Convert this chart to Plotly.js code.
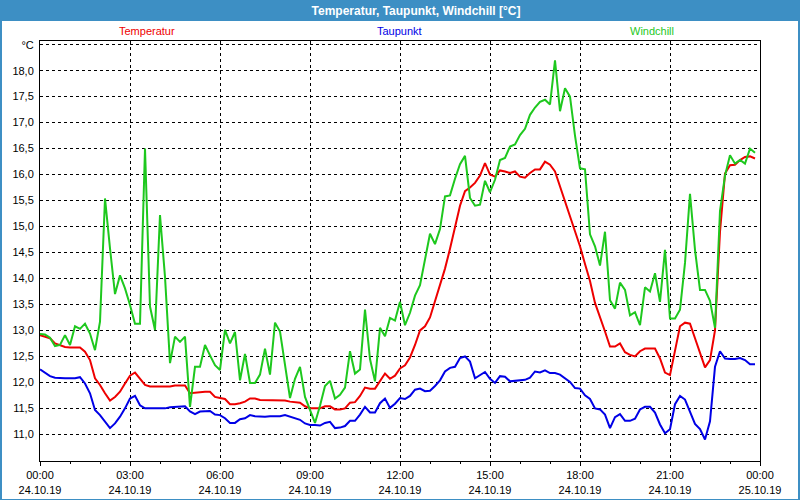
<!DOCTYPE html>
<html>
<head>
<meta charset="utf-8">
<script src="https://cdn.plot.ly/plotly-3.0.1.min.js"></script>
<style>
html, body { margin: 0; padding: 0; background: #ffffff; }
#chart { width: 800px; height: 500px; }
</style>
</head>
<body>
<div id="chart"></div>
<script>
// ---- Data (10-minute readings, 24.10.19 00:00 .. 23:50) ----
const startDay = '2019-10-24';
const stepMinutes = 10;

const seriesNames = ['Temperatur', 'Taupunkt', 'Windchill'];

const temperatur = [
  12.91, 12.88, 12.85, 12.75, 12.72, 12.68, 12.67, 12.67, 12.67, 12.59,
  12.43, 12.08, 11.95, 11.79, 11.65, 11.72, 11.82, 11.98, 12.13, 12.19,
  12.08, 11.95, 11.92, 11.92, 11.92, 11.92, 11.92, 11.94, 11.94, 11.94,
  11.79, 11.80, 11.82, 11.82, 11.82, 11.72, 11.70, 11.68, 11.58, 11.58,
  11.60, 11.63, 11.69, 11.69, 11.66, 11.66, 11.66, 11.66, 11.66, 11.65,
  11.63, 11.62, 11.61, 11.54, 11.50, 11.50, 11.50, 11.54, 11.54, 11.48,
  11.48, 11.50, 11.61, 11.62, 11.74, 11.90, 11.88, 11.88, 12.02, 12.17,
  12.07, 12.13, 12.27, 12.33, 12.48, 12.72, 13.00, 13.08, 13.25, 13.55,
  13.87, 14.19, 14.57, 14.97, 15.40, 15.68, 15.75, 15.84, 15.98, 16.22,
  16.00, 15.96, 16.08, 16.06, 16.03, 16.06, 15.96, 15.94, 16.03, 16.10,
  16.10, 16.25, 16.19, 16.06, 15.78, 15.49, 15.20, 14.92, 14.62, 14.28,
  13.95, 13.53, 13.27, 12.98, 12.69, 12.69, 12.75, 12.58, 12.53, 12.50,
  12.60, 12.65, 12.65, 12.65, 12.46, 12.19, 12.14, 12.62, 13.08, 13.15,
  13.13, 12.85, 12.57, 12.29, 12.43, 13.00, 14.90, 16.02, 16.18, 16.19,
  16.28, 16.34, 16.35, 16.31
];

const taupunkt = [
  12.25, 12.18, 12.12, 12.09, 12.08, 12.08, 12.08, 12.08, 12.10, 11.98,
  11.79, 11.47, 11.37, 11.24, 11.12, 11.21, 11.34, 11.50, 11.69, 11.74,
  11.56, 11.50, 11.50, 11.50, 11.50, 11.50, 11.52, 11.53, 11.54, 11.54,
  11.44, 11.39, 11.44, 11.45, 11.45, 11.38, 11.37, 11.31, 11.22, 11.22,
  11.29, 11.31, 11.37, 11.35, 11.34, 11.34, 11.35, 11.35, 11.35, 11.37,
  11.34, 11.31, 11.28, 11.21, 11.18, 11.18, 11.17, 11.22, 11.24, 11.12,
  11.13, 11.16, 11.26, 11.26, 11.38, 11.53, 11.42, 11.42, 11.60, 11.69,
  11.51, 11.59, 11.70, 11.68, 11.74, 11.86, 11.88, 11.83, 11.84, 11.93,
  12.04, 12.21, 12.28, 12.30, 12.47, 12.50, 12.40, 12.08, 12.14, 12.20,
  12.07, 11.99, 12.12, 12.11, 12.02, 12.03, 12.03, 12.05, 12.09, 12.21,
  12.19, 12.23, 12.18, 12.18, 12.15, 12.08, 12.01, 11.89, 11.88, 11.75,
  11.68, 11.50, 11.48, 11.38, 11.12, 11.33, 11.39, 11.26, 11.26, 11.30,
  11.48, 11.53, 11.53, 11.42, 11.19, 11.02, 11.10, 11.58, 11.74, 11.67,
  11.45, 11.20, 11.10, 10.90, 11.25, 12.30, 12.60, 12.46, 12.45, 12.45,
  12.47, 12.43, 12.35, 12.35
];

const windchill = [
  12.93, 12.92, 12.86, 12.70, 12.72, 12.91, 12.72, 13.08, 13.03, 13.13,
  12.94, 12.62, 13.17, 15.54, 14.58, 13.70, 14.06, 13.81, 13.49, 13.13,
  13.13, 16.50, 13.46, 13.01, 15.22, 14.03, 12.37, 12.88, 12.78, 12.88,
  11.53, 12.30, 12.30, 12.72, 12.52, 12.33, 12.24, 13.01, 12.75, 12.97,
  12.04, 12.55, 11.99, 11.99, 12.15, 12.65, 12.15, 13.15, 12.98, 12.35,
  11.70, 12.07, 12.30, 11.72, 11.45, 11.22, 11.55, 11.93, 12.03, 11.69,
  11.76, 11.90, 12.60, 12.17, 12.25, 13.40, 12.45, 12.02, 13.05, 12.89,
  13.24, 13.19, 13.55, 13.10, 13.34, 13.67, 13.87, 14.40, 14.86, 14.66,
  14.95, 15.58, 15.60, 15.92, 16.20, 16.36, 15.55, 15.40, 15.42, 15.88,
  15.66, 15.90, 16.28, 16.32, 16.54, 16.58, 16.76, 16.88, 17.15, 17.29,
  17.40, 17.44, 17.35, 18.20, 17.22, 17.66, 17.50, 16.75, 16.12, 16.10,
  14.85, 14.62, 14.25, 14.90, 13.58, 13.42, 13.92, 13.78, 13.29, 13.35,
  13.10, 13.83, 13.75, 14.10, 13.55, 14.55, 13.23, 13.23, 13.40, 14.30,
  15.63, 14.55, 13.78, 13.78, 13.57, 13.05, 15.30, 15.98, 16.37, 16.21,
  16.28, 16.21, 16.50, 16.42
];

const xTickVals = [
  '2019-10-24 00:00', '2019-10-24 03:00', '2019-10-24 06:00',
  '2019-10-24 09:00', '2019-10-24 12:00', '2019-10-24 15:00',
  '2019-10-24 18:00', '2019-10-24 21:00', '2019-10-25 00:00'
];
const xTickText = [
  '00:00<br>24.10.19', '03:00<br>24.10.19', '06:00<br>24.10.19',
  '09:00<br>24.10.19', '12:00<br>24.10.19', '15:00<br>24.10.19',
  '18:00<br>24.10.19', '21:00<br>24.10.19', '00:00<br>25.10.19'
];

const yTickVals = [11, 11.5, 12, 12.5, 13, 13.5, 14, 14.5, 15, 15.5, 16, 16.5, 17, 17.5, 18, 18.5];
const yTickText = ['11,0', '11,5', '12,0', '12,5', '13,0', '13,5', '14,0', '14,5', '15,0', '15,5', '16,0', '16,5', '17,0', '17,5', '18,0', '°C'];

const chartTitle = 'Temperatur, Taupunkt, Windchill [°C]';

// ---- build time axis ----
function pad(n) { return (n < 10 ? '0' : '') + n; }
const times = temperatur.map((_, i) => {
  const mins = i * stepMinutes;
  return startDay + ' ' + pad(Math.floor(mins / 60)) + ':' + pad(mins % 60);
});

const colors = { red: '#ee0000', blue: '#0000e6', green: '#1ec81e' };
const font = 'Liberation Sans, Arial, sans-serif';

const traces = [
  { x: times, y: taupunkt, name: seriesNames[1], line: { color: colors.blue, width: 2 } },
  { x: times, y: temperatur, name: seriesNames[0], line: { color: colors.red, width: 2 } },
  { x: times, y: windchill, name: seriesNames[2], line: { color: colors.green, width: 2 } }
].map(t => Object.assign({ type: 'scatter', mode: 'lines', hoverinfo: 'skip' }, t));

// plot area: x 40..760, y 41..461 (px)
const PL = 40, PR = 760, PT = 41, PB = 461;
const pxX = px => (px - PL) / (PR - PL);
const pxY = py => (PB - py) / (PB - PT);
const barBlue = '#3d8fc4';

const layout = {
  width: 800, height: 500,
  margin: { l: PL, r: 800 - PR, t: PT, b: 500 - PB, pad: 0 },
  paper_bgcolor: '#ffffff', plot_bgcolor: '#ffffff',
  showlegend: false,
  font: { family: font, size: 11, color: '#000000' },
  title: {
    text: '<b>' + chartTitle + '</b>',
    font: { family: font, size: 12, color: '#ffffff' },
    xref: 'container', yref: 'container',
    x: 416 / 800, y: 1 - 11 / 500, xanchor: 'center', yanchor: 'middle'
  },
  xaxis: {
    type: 'date',
    range: ['2019-10-24 00:00', '2019-10-25 00:00'],
    tickmode: 'array', tickvals: xTickVals, ticktext: xTickText,
    ticks: 'outside', ticklen: 4, tickcolor: '#000000', tickwidth: 1,
    minor: { tickmode: 'linear', tick0: '2019-10-24 00:00', dtick: 3600000,
             ticks: 'outside', ticklen: 2, tickcolor: '#000000', showgrid: false },
    showgrid: true, gridcolor: '#000000', gridwidth: 1, griddash: '3px,3px',
    showline: true, linecolor: '#000000', linewidth: 1, mirror: true,
    zeroline: false, fixedrange: true,
    tickfont: { family: font, size: 11, color: '#000000' }
  },
  yaxis: {
    range: [10.487, 18.571],
    tickmode: 'array', tickvals: yTickVals, ticktext: yTickText,
    ticks: '', ticklabelstandoff: 3,
    showgrid: true, gridcolor: '#000000', gridwidth: 1, griddash: '3px,3px',
    showline: true, linecolor: '#000000', linewidth: 1, mirror: true,
    zeroline: false, fixedrange: true,
    tickfont: { family: font, size: 11, color: '#000000' }
  },
  shapes: [
    { type: 'rect', xref: 'paper', yref: 'paper', x0: pxX(0), x1: pxX(800), y0: pxY(21), y1: pxY(0),
      fillcolor: barBlue, line: { width: 0 }, layer: 'below' },
    { type: 'rect', xref: 'paper', yref: 'paper', x0: pxX(0), x1: pxX(2), y0: pxY(500), y1: pxY(0),
      fillcolor: barBlue, line: { width: 0 }, layer: 'below' },
    { type: 'rect', xref: 'paper', yref: 'paper', x0: pxX(798), x1: pxX(800), y0: pxY(500), y1: pxY(0),
      fillcolor: barBlue, line: { width: 0 }, layer: 'below' },
    { type: 'rect', xref: 'paper', yref: 'paper', x0: pxX(0), x1: pxX(800), y0: pxY(500), y1: pxY(499),
      fillcolor: barBlue, line: { width: 0 }, layer: 'below' }
  ],
  annotations: [
    { text: seriesNames[0], x: pxX(147), color: colors.red },
    { text: seriesNames[1], x: pxX(399), color: colors.blue },
    { text: seriesNames[2], x: pxX(652), color: colors.green }
  ].map(a => ({
    text: a.text, xref: 'paper', yref: 'paper', x: a.x, y: pxY(31),
    xanchor: 'center', yanchor: 'middle', showarrow: false,
    font: { family: font, size: 11, color: a.color }
  }))
};

Plotly.newPlot('chart', traces, layout, { staticPlot: true, displayModeBar: false });
</script>
</body>
</html>
